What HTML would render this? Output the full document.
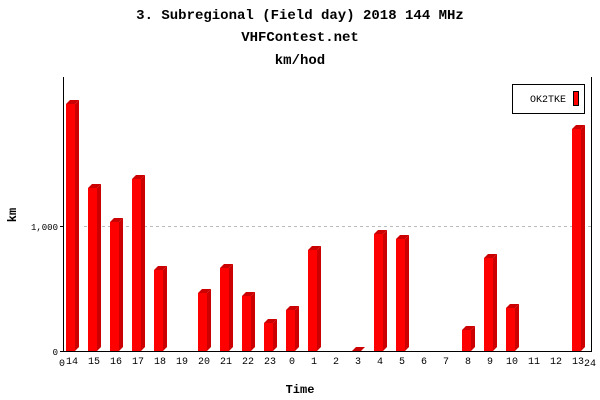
<!DOCTYPE html>
<html><head><meta charset="utf-8"><style>body{margin:0;background:#fff}svg{display:block}</style></head><body>
<svg width="600" height="400" xmlns="http://www.w3.org/2000/svg" font-family="'Liberation Mono', monospace">
<rect width="600" height="400" fill="#fff"/>
<g font-weight="bold" font-size="14" text-anchor="middle" fill="#000">
<text x="300" y="19">3. Subregional (Field day) 2018 144 MHz</text>
<text x="300" y="41">VHFContest.net</text>
<text x="300" y="64">km/hod</text>
<text x="300" y="393" font-size="12">Time</text>
<text x="16" y="215" font-size="12" transform="rotate(-90 16 215)">km</text>
</g>
<line x1="84" y1="226.5" x2="591" y2="226.5" stroke="#bbb" stroke-dasharray="3,3"/>
<g fill="#cc0000">
<polygon points="75,104 79,100 79,347 75,351"/><polygon points="66,104 70,100 79,100 75,104"/><rect x="66" y="104" width="9" height="247" fill="#f00"/>
<polygon points="97,188 101,184 101,347 97,351"/><polygon points="88,188 92,184 101,184 97,188"/><rect x="88" y="188" width="9" height="163" fill="#f00"/>
<polygon points="119,222 123,218 123,347 119,351"/><polygon points="110,222 114,218 123,218 119,222"/><rect x="110" y="222" width="9" height="129" fill="#f00"/>
<polygon points="141,179 145,175 145,347 141,351"/><polygon points="132,179 136,175 145,175 141,179"/><rect x="132" y="179" width="9" height="172" fill="#f00"/>
<polygon points="163,270 167,266 167,347 163,351"/><polygon points="154,270 158,266 167,266 163,270"/><rect x="154" y="270" width="9" height="81" fill="#f00"/>
<polygon points="207,293 211,289 211,347 207,351"/><polygon points="198,293 202,289 211,289 207,293"/><rect x="198" y="293" width="9" height="58" fill="#f00"/>
<polygon points="229,268 233,264 233,347 229,351"/><polygon points="220,268 224,264 233,264 229,268"/><rect x="220" y="268" width="9" height="83" fill="#f00"/>
<polygon points="251,296 255,292 255,347 251,351"/><polygon points="242,296 246,292 255,292 251,296"/><rect x="242" y="296" width="9" height="55" fill="#f00"/>
<polygon points="273,323 277,319 277,347 273,351"/><polygon points="264,323 268,319 277,319 273,323"/><rect x="264" y="323" width="9" height="28" fill="#f00"/>
<polygon points="295,310 299,306 299,347 295,351"/><polygon points="286,310 290,306 299,306 295,310"/><rect x="286" y="310" width="9" height="41" fill="#f00"/>
<polygon points="317,250 321,246 321,347 317,351"/><polygon points="308,250 312,246 321,246 317,250"/><rect x="308" y="250" width="9" height="101" fill="#f00"/>
<polygon points="352,351 356,347 365,347 361,351"/>
<polygon points="383,234 387,230 387,347 383,351"/><polygon points="374,234 378,230 387,230 383,234"/><rect x="374" y="234" width="9" height="117" fill="#f00"/>
<polygon points="405,239 409,235 409,347 405,351"/><polygon points="396,239 400,235 409,235 405,239"/><rect x="396" y="239" width="9" height="112" fill="#f00"/>
<polygon points="471,330 475,326 475,347 471,351"/><polygon points="462,330 466,326 475,326 471,330"/><rect x="462" y="330" width="9" height="21" fill="#f00"/>
<polygon points="493,258 497,254 497,347 493,351"/><polygon points="484,258 488,254 497,254 493,258"/><rect x="484" y="258" width="9" height="93" fill="#f00"/>
<polygon points="515,308 519,304 519,347 515,351"/><polygon points="506,308 510,304 519,304 515,308"/><rect x="506" y="308" width="9" height="43" fill="#f00"/>
<polygon points="581,129 585,125 585,347 581,351"/><polygon points="572,129 576,125 585,125 581,129"/><rect x="572" y="129" width="9" height="222" fill="#f00"/>
</g>
<line x1="63.5" y1="77" x2="63.5" y2="352" stroke="#000"/>
<line x1="591.5" y1="77" x2="591.5" y2="352" stroke="#000"/>
<line x1="60" y1="351.5" x2="592" y2="351.5" stroke="#000"/>
<line x1="60" y1="226.5" x2="63" y2="226.5" stroke="#000"/>
<g font-size="9" fill="#000" text-anchor="end">
<text x="58" y="230">1,000</text>
<text x="58" y="355">0</text>
</g>
<g font-size="10" fill="#000" text-anchor="middle">
<text x="62" y="366">0</text><text x="590" y="366">24</text>
<text x="72" y="364">14</text><text x="94" y="364">15</text><text x="116" y="364">16</text><text x="138" y="364">17</text>
<text x="160" y="364">18</text><text x="182" y="364">19</text><text x="204" y="364">20</text><text x="226" y="364">21</text>
<text x="248" y="364">22</text><text x="270" y="364">23</text><text x="292" y="364">0</text><text x="314" y="364">1</text>
<text x="336" y="364">2</text><text x="358" y="364">3</text><text x="380" y="364">4</text><text x="402" y="364">5</text>
<text x="424" y="364">6</text><text x="446" y="364">7</text><text x="468" y="364">8</text><text x="490" y="364">9</text>
<text x="512" y="364">10</text><text x="534" y="364">11</text><text x="556" y="364">12</text><text x="578" y="364">13</text>
</g>
<rect x="512.5" y="84.5" width="72" height="29" fill="#fff" stroke="#000"/>
<text x="530" y="102" font-size="10" fill="#000">OK2TKE</text>
<rect x="573.5" y="91.5" width="5" height="14" fill="#f00" stroke="#000"/>
</svg>
</body></html>
